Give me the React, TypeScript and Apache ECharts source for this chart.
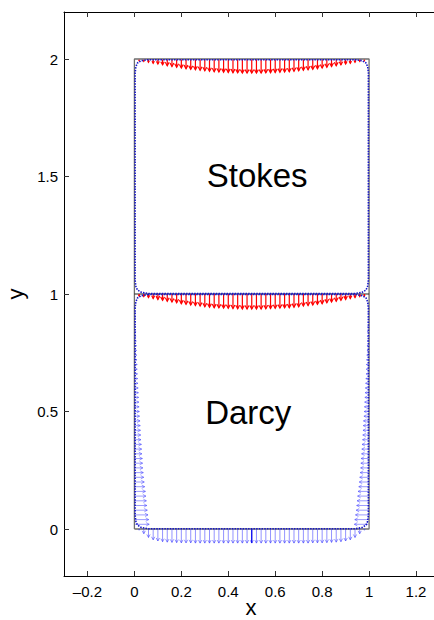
import React, { useEffect, useRef } from "react";
import * as echarts from "echarts";

// Sample positions of the boundary arrows along the horizontal edges
const edgeX = [
  0.02, 0.04, 0.06, 0.08, 0.1, 0.12, 0.14, 0.16, 0.18, 0.2, 0.22, 0.24, 0.26, 0.28, 0.3, 0.32, 0.34,
  0.36, 0.38, 0.4, 0.42, 0.44, 0.46, 0.48, 0.5, 0.52, 0.54, 0.56, 0.58, 0.6, 0.62, 0.64, 0.66, 0.68,
  0.7, 0.72, 0.74, 0.76, 0.78, 0.8, 0.82, 0.84, 0.86, 0.88, 0.9, 0.92, 0.94, 0.96, 0.98,
];

// Downward arrow length on the Stokes top lid (y = 2)
const stokesTopDepth = [
  0.007, 0.01, 0.014, 0.018, 0.021, 0.025, 0.029, 0.032, 0.035, 0.038, 0.041, 0.044, 0.046, 0.048,
  0.05, 0.052, 0.054, 0.055, 0.056, 0.057, 0.058, 0.059, 0.06, 0.06, 0.06, 0.06, 0.06, 0.059, 0.058,
  0.057, 0.056, 0.055, 0.054, 0.052, 0.05, 0.048, 0.046, 0.044, 0.041, 0.038, 0.035, 0.032, 0.029,
  0.025, 0.021, 0.018, 0.014, 0.01, 0.007,
];

// Downward arrow length on the Stokes/Darcy interface (y = 1)
const interfaceDepth = [
  0.008, 0.011, 0.015, 0.019, 0.023, 0.027, 0.031, 0.034, 0.037, 0.041, 0.044, 0.047, 0.049, 0.051,
  0.054, 0.056, 0.058, 0.059, 0.06, 0.061, 0.062, 0.063, 0.064, 0.064, 0.064, 0.064, 0.064, 0.063,
  0.062, 0.061, 0.06, 0.059, 0.058, 0.056, 0.054, 0.051, 0.049, 0.047, 0.044, 0.041, 0.037, 0.034,
  0.031, 0.027, 0.023, 0.019, 0.015, 0.011, 0.008,
];

// Downward arrow length on the Darcy bottom (y = 0)
const darcyBottomDepth = [
  0.005, 0.02, 0.036, 0.046, 0.051, 0.054, 0.056, 0.057, 0.058, 0.059, 0.059, 0.059, 0.06, 0.06, 0.06,
  0.06, 0.06, 0.06, 0.06, 0.06, 0.06, 0.06, 0.06, 0.06, 0.06, 0.06, 0.06, 0.06, 0.06, 0.06, 0.06,
  0.06, 0.06, 0.06, 0.06, 0.06, 0.06, 0.059, 0.059, 0.059, 0.058, 0.057, 0.056, 0.054, 0.051, 0.046,
  0.036, 0.02, 0.005,
];

// Sample heights of the arrows on the Darcy side walls
const wallY = [
  0.02, 0.04, 0.06, 0.08, 0.1, 0.12, 0.14, 0.16, 0.18, 0.2, 0.22, 0.24, 0.26, 0.28, 0.3, 0.32, 0.34,
  0.36, 0.38, 0.4, 0.42, 0.44, 0.46, 0.48, 0.5, 0.52, 0.54, 0.56, 0.58, 0.6, 0.62, 0.64, 0.66, 0.68,
  0.7, 0.72, 0.74, 0.76, 0.78, 0.8, 0.82, 0.84, 0.86, 0.88, 0.9, 0.92, 0.94, 0.96, 0.98,
];

// Inward arrow length on the Darcy side walls
const darcyWallLength = [
  0.06, 0.058, 0.055, 0.052, 0.05, 0.048, 0.046, 0.044, 0.041, 0.039, 0.037, 0.035, 0.033, 0.032,
  0.031, 0.029, 0.028, 0.027, 0.025, 0.024, 0.023, 0.022, 0.021, 0.019, 0.018, 0.017, 0.016, 0.015,
  0.014, 0.013, 0.012, 0.011, 0.01, 0.009, 0.009, 0.008, 0.007, 0.006, 0.006, 0.005, 0.004, 0.004,
  0.003, 0.003, 0.002, 0.002, 0.001, 0.001, 0.0,
];

// Discrete boundary of each subdomain
const stokesOutline = [
  [0.94, 1.002], [0.06, 1.002], [0.03, 1.007], [0.013, 1.017], [0.006, 1.033], [0.003, 1.06],
  [0.003, 1.94], [0.006, 1.967], [0.013, 1.983], [0.03, 1.993], [0.06, 1.997], [0.94, 1.997],
  [0.97, 1.993], [0.987, 1.983], [0.994, 1.967], [0.997, 1.94], [0.997, 1.06], [0.994, 1.033],
  [0.987, 1.017], [0.97, 1.007], [0.94, 1.002],
];
const darcyOutline = [
  [0.06, 0.998], [0.03, 0.993], [0.013, 0.983], [0.006, 0.967], [0.003, 0.94], [0.003, 0.06],
  [0.006, 0.033], [0.013, 0.017], [0.03, 0.006], [0.06, 0.001], [0.94, 0.001], [0.97, 0.006],
  [0.987, 0.017], [0.994, 0.033], [0.997, 0.06], [0.997, 0.94], [0.994, 0.967], [0.987, 0.983],
  [0.97, 0.993], [0.94, 0.998], [0.06, 0.998],
];

// Reference domain [0,1] x [0,2] and the interface
const domainBox = [[0, 0], [1, 0], [1, 2], [0, 2], [0, 0]];
const interfaceLine = [[0, 1], [1, 1]];

const xTicks = [-0.2, 0, 0.2, 0.4, 0.6, 0.8, 1, 1.2];
const yTicks = [0, 0.5, 1, 1.5, 2];

const regionLabels = [
  { name: "Stokes", x: 0.523, y: 1.505 },
  { name: "Darcy", x: 0.485, y: 0.495 },
];

const FONT = "'Liberation Sans', Arial, Helvetica, sans-serif";

function arrowItem(color: string, opacity: number, head: number, width: number) {
  return (params: any, api: any) => {
    const p0 = api.coord([api.value(0), api.value(1)]);
    const p1 = api.coord([api.value(2), api.value(3)]);
    const dx = p1[0] - p0[0];
    const dy = p1[1] - p0[1];
    const len = Math.hypot(dx, dy) || 1;
    const ux = dx / len;
    const uy = dy / len;
    const h = Math.min(head, len * 0.6);
    const bx = p1[0] - ux * h;
    const by = p1[1] - uy * h;
    const style = { stroke: color, lineWidth: width, opacity };
    return {
      type: "group",
      children: [
        { type: "line", shape: { x1: p0[0], y1: p0[1], x2: p1[0], y2: p1[1] }, style },
        {
          type: "polyline",
          shape: {
            points: [
              [bx - uy * h * 0.55, by + ux * h * 0.55],
              [p1[0], p1[1]],
              [bx + uy * h * 0.55, by - ux * h * 0.55],
            ],
          },
          style: { ...style, fill: "none" },
        },
      ],
    };
  };
}

export default function App() {
  const ref = useRef<HTMLDivElement>(null);

  useEffect(() => {
    if (!ref.current) return;
    const chart = echarts.init(ref.current, undefined, { renderer: "svg" });

    const topArrows = edgeX.map((x, i) => [x, 1.997, x, 2 - stokesTopDepth[i]]);
    const ifaceArrows = edgeX.map((x, i) => [x, 1.0, x, 1 - interfaceDepth[i]]);
    const bottomArrows = edgeX.map((x, i) => [x, 0.0, x, -darcyBottomDepth[i]]);
    const wallArrows = [
      ...wallY.map((y, i) => [0.003, y, 0.003 + darcyWallLength[i], y]),
      ...wallY.map((y, i) => [0.997, y, 0.997 - darcyWallLength[i], y]),
    ];
    const mid = edgeX.indexOf(0.5);
    const centerArrow = [
      [edgeX[mid], 0],
      [edgeX[mid], -darcyBottomDepth[mid]],
    ];

    const labelFmt = (v: number) => String(v).replace("-", "\u2013");

    const xAxisBase = {
      type: "value",
      min: -0.3,
      max: 1.2766,
      splitLine: { show: false },
      axisLine: { show: true, onZero: false, lineStyle: { color: "#000", width: 1 } },
      axisTick: {
        show: true,
        inside: true,
        length: 5,
        customValues: xTicks,
        lineStyle: { color: "#333" },
      },
    };

    chart.setOption({
      animation: false,
      grid: {
        left: 64,
        right: 0,
        top: 12,
        bottom: 44,
        containLabel: false,
        outerBoundsMode: "none",
      },
      // x-axis title, placed just under the tick labels
      graphic: [
        {
          type: "text",
          x: 251,
          y: 607,
          silent: true,
          style: {
            text: "x",
            fontFamily: FONT,
            fontSize: 22,
            fill: "#000",
            align: "center",
            verticalAlign: "middle",
          },
        },
      ],
      xAxis: [
        {
          ...xAxisBase,
          position: "bottom",
          axisLabel: {
            customValues: xTicks,
            formatter: labelFmt,
            fontFamily: FONT,
            fontSize: 15,
            color: "#000",
            margin: 8,
          },
        },
        { ...xAxisBase, position: "top", axisLabel: { show: false } },
      ],
      yAxis: [
        {
          type: "value",
          min: -0.2,
          max: 2.2,
          splitLine: { show: false },
          axisLine: { show: true, onZero: false, lineStyle: { color: "#000", width: 1 } },
          axisTick: {
            show: true,
            inside: true,
            length: 5,
            customValues: yTicks,
            lineStyle: { color: "#333" },
          },
          axisLabel: {
            customValues: yTicks,
            formatter: labelFmt,
            fontFamily: FONT,
            fontSize: 15,
            color: "#000",
            margin: 6,
          },
          name: "y",
          nameLocation: "middle",
          nameGap: 38,
          nameTextStyle: { fontFamily: FONT, fontSize: 22, color: "#000" },
        },
      ],
      series: [
        {
          type: "line",
          data: domainBox,
          showSymbol: false,
          lineStyle: { color: "#6e6e6e", width: 1.3 },
          silent: true,
          z: 1,
        },
        {
          type: "line",
          data: interfaceLine,
          showSymbol: false,
          lineStyle: { color: "#222", width: 1.2 },
          silent: true,
          z: 1,
        },
        {
          type: "custom",
          renderItem: arrowItem("#3a3aff", 0.5, 3, 1),
          data: wallArrows,
          encode: { x: [0, 2], y: [1, 3] },
          silent: true,
          z: 2,
        },
        {
          type: "custom",
          renderItem: arrowItem("#3a3aff", 0.55, 3, 1),
          data: bottomArrows,
          encode: { x: [0, 2], y: [1, 3] },
          silent: true,
          z: 2,
        },
        {
          type: "custom",
          renderItem: arrowItem("#ff0000", 1, 3.5, 1.2),
          data: topArrows,
          encode: { x: [0, 2], y: [1, 3] },
          silent: true,
          z: 3,
        },
        {
          type: "custom",
          renderItem: arrowItem("#ff0000", 1, 3.5, 1.2),
          data: ifaceArrows,
          encode: { x: [0, 2], y: [1, 3] },
          silent: true,
          z: 3,
        },
        {
          type: "line",
          data: centerArrow,
          showSymbol: false,
          lineStyle: { color: "#0000ee", width: 1.2 },
          silent: true,
          z: 4,
        },
        {
          type: "line",
          data: stokesOutline,
          showSymbol: false,
          lineStyle: { color: "#1515c8", width: 1.6, type: [1.5, 1.2] },
          silent: true,
          z: 5,
        },
        {
          type: "line",
          data: darcyOutline,
          showSymbol: false,
          lineStyle: { color: "#1515c8", width: 1.6, type: [1.5, 1.2] },
          silent: true,
          z: 5,
        },
        {
          type: "scatter",
          data: regionLabels.map((d) => ({ name: d.name, value: [d.x, d.y] })),
          symbolSize: 0,
          silent: true,
          itemStyle: { opacity: 1 },
          label: {
            show: true,
            position: "inside",
            formatter: (p: any) => p.name,
            fontFamily: FONT,
            fontSize: 33,
            color: "#000",
            opacity: 1,
            textBorderWidth: 0,
          },
          z: 6,
        },
      ],
    });

    return () => chart.dispose();
  }, []);

  return (
    <div
      ref={ref}
      style={{ position: "absolute", left: 0, top: 0, width: 434, height: 620, background: "#fff" }}
    />
  );
}
